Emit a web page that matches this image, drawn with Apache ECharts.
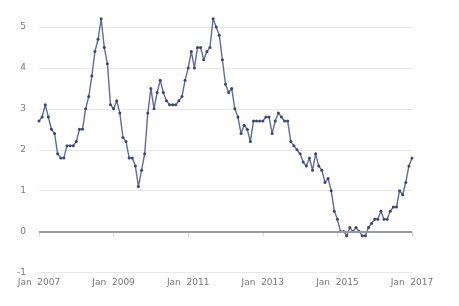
<!DOCTYPE html>
<html>
<head>
<meta charset="utf-8">
<script src="https://cdn.jsdelivr.net/npm/echarts@6/dist/echarts.min.js"></script>
<style>html,body{margin:0;padding:0;background:#fff}#c{width:459px;height:306px}</style>
</head>
<body>
<div id="c"></div>
<script>
// Monthly values, Jan 2007 .. Jan 2017
const months = [];
const monthNames = ['Jan','Feb','Mar','Apr','May','Jun','Jul','Aug','Sep','Oct','Nov','Dec'];
for (let y = 2007; y <= 2017; y++) {
  for (let m = 0; m < 12; m++) {
    if (y === 2017 && m > 0) break;
    months.push(monthNames[m] + ' ' + y);
  }
}
const v2007 = [2.7, 2.8, 3.1, 2.8, 2.5, 2.4, 1.9, 1.8, 1.8, 2.1, 2.1, 2.1];
const v2008 = [2.2, 2.5, 2.5, 3.0, 3.3, 3.8, 4.4, 4.7, 5.2, 4.5, 4.1, 3.1];
const v2009 = [3.0, 3.2, 2.9, 2.3, 2.2, 1.8, 1.8, 1.6, 1.1, 1.5, 1.9, 2.9];
const v2010 = [3.5, 3.0, 3.4, 3.7, 3.4, 3.2, 3.1, 3.1, 3.1, 3.2, 3.3, 3.7];
const v2011 = [4.0, 4.4, 4.0, 4.5, 4.5, 4.2, 4.4, 4.5, 5.2, 5.0, 4.8, 4.2];
const v2012 = [3.6, 3.4, 3.5, 3.0, 2.8, 2.4, 2.6, 2.5, 2.2, 2.7, 2.7, 2.7];
const v2013 = [2.7, 2.8, 2.8, 2.4, 2.7, 2.9, 2.8, 2.7, 2.7, 2.2, 2.1, 2.0];
const v2014 = [1.9, 1.7, 1.6, 1.8, 1.5, 1.9, 1.6, 1.5, 1.2, 1.3, 1.0, 0.5];
const v2015 = [0.3, 0.0, 0.0, -0.1, 0.1, 0.0, 0.1, 0.0, -0.1, -0.1, 0.1, 0.2];
const v2016 = [0.3, 0.3, 0.5, 0.3, 0.3, 0.5, 0.6, 0.6, 1.0, 0.9, 1.2, 1.6];
const v2017 = [1.8];
const values = [].concat(v2007, v2008, v2009, v2010, v2011, v2012, v2013, v2014, v2015, v2016, v2017);

const yMin = -1, yMax = 5, yStep = 1;

const chart = echarts.init(document.getElementById('c'), null, {renderer: 'canvas'});
chart.setOption({
  animation: false,
  grid: {left: 39, right: 47, top: 27, bottom: 33.5},
  xAxis: {
    type: 'category',
    data: months,
    boundaryGap: false,
    axisLine: {show: true, lineStyle: {color: '#d6d6d6', width: 1}},
    axisTick: {show: true, interval: 23, length: 5, lineStyle: {color: '#d6d6d6'}},
    axisLabel: {
      interval: 23, margin: 6, color: '#777', fontSize: 9, fontFamily: 'DejaVu Sans',
      formatter: function (v) { return v.replace(' ', '  '); }
    },
    splitLine: {show: false}
  },
  yAxis: {
    type: 'value',
    min: yMin, max: yMax, interval: yStep,
    axisLine: {show: false},
    axisTick: {show: false},
    axisLabel: {color: '#777', fontSize: 9, fontFamily: 'DejaVu Sans', margin: 13},
    splitLine: {show: true, lineStyle: {color: '#e8e8e8', width: 1}}
  },
  series: [{
    type: 'line',
    data: values,
    clip: false,
    symbol: 'circle',
    symbolSize: 3,
    showSymbol: true,
    showAllSymbol: true,
    lineStyle: {color: '#5f6c9c', width: 1.4},
    itemStyle: {color: '#3a4675'},
    markLine: {
      silent: true,
      symbol: ['none', 'none'],
      label: {show: false},
      lineStyle: {color: '#9a9a9a', width: 2, type: 'solid'},
      data: [{yAxis: 0}]
    },
    z: 3
  }]
});
</script>
</body>
</html>
